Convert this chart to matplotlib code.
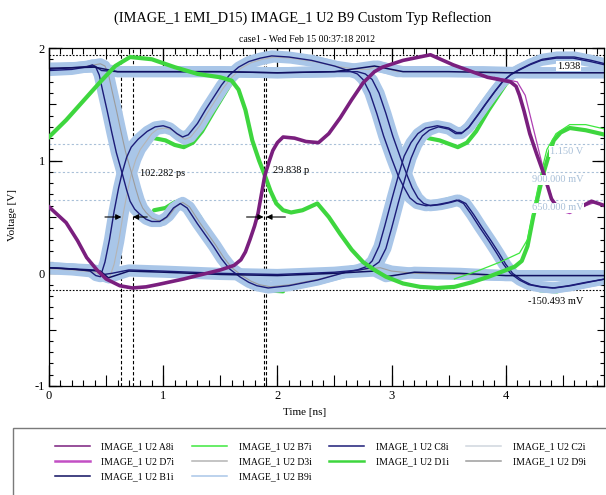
import matplotlib
matplotlib.use("Agg")
import matplotlib.pyplot as plt
from matplotlib.ticker import MultipleLocator, NullFormatter
from matplotlib.lines import Line2D
from matplotlib.patches import Rectangle

plt.rcParams['font.family'] = ['Liberation Serif', 'DejaVu Serif']

# ---- data (time in ns, voltage in V) ----

# B9i bundle: falls at 1st crossing, rises at 2nd
e1_t = [0.00, 0.20, 0.32, 0.38, 0.41, 0.44, 0.47, 0.51, 0.55, 0.59, 0.64, 0.68, 0.71, 0.75, 0.79,
        0.85, 0.90, 0.97, 1.03, 1.09, 1.15, 1.21, 1.30, 1.37, 1.44, 1.51, 1.58, 1.67, 1.75, 1.82,
        1.92, 2.10, 2.35, 2.60, 2.70, 2.78, 2.83, 2.89, 2.94, 3.00, 3.06, 3.11, 3.17, 3.23, 3.30,
        3.40, 3.50, 3.57, 3.62, 3.68, 3.76, 3.83, 3.91, 3.98, 4.05, 4.12, 4.22, 4.32, 4.45, 4.60,
        4.75, 4.87]
e1_v = [1.80, 1.81, 1.83, 1.85, 1.83, 1.76, 1.62, 1.44, 1.25, 1.07, 0.89, 0.74, 0.64, 0.57, 0.53,
        0.48, 0.46, 0.46, 0.50, 0.58, 0.62, 0.58, 0.44, 0.34, 0.24, 0.13, 0.04, -0.03, -0.08, -0.11,
        -0.13, -0.11, -0.06, 0.01, 0.03, 0.06, 0.11, 0.24, 0.42, 0.65, 0.87, 1.04, 1.16, 1.24, 1.29,
        1.31, 1.29, 1.25, 1.25, 1.30, 1.41, 1.51, 1.62, 1.71, 1.77, 1.81, 1.86, 1.90, 1.92, 1.92,
        1.89, 1.86]

# rises at 1st crossing, falls at 2nd
e2_t = [0.00, 0.20, 0.36, 0.41, 0.45, 0.49, 0.53, 0.57, 0.61, 0.64, 0.68, 0.72, 0.78, 0.86, 0.93,
        1.00, 1.06, 1.12, 1.17, 1.22, 1.30, 1.37, 1.44, 1.51, 1.58, 1.66, 1.75, 1.85, 1.95, 2.10,
        2.30, 2.50, 2.62, 2.70, 2.75, 2.81, 2.87, 2.93, 3.00, 3.06, 3.11, 3.16, 3.22, 3.30, 3.40,
        3.50, 3.57, 3.63, 3.70, 3.77, 3.85, 3.92, 3.98, 4.04, 4.12, 4.20, 4.30, 4.41, 4.55, 4.70,
        4.87]
e2_v = [0.05, 0.04, 0.02, -0.02, -0.03, 0.10, 0.30, 0.55, 0.76, 0.89, 1.03, 1.12, 1.19, 1.26, 1.30,
        1.31, 1.29, 1.24, 1.21, 1.23, 1.33, 1.45, 1.56, 1.67, 1.76, 1.83, 1.88, 1.91, 1.93, 1.92,
        1.89, 1.84, 1.80, 1.77, 1.72, 1.60, 1.42, 1.22, 1.02, 0.86, 0.76, 0.67, 0.62, 0.60, 0.61,
        0.63, 0.65, 0.62, 0.52, 0.41, 0.29, 0.18, 0.08, 0.00, -0.06, -0.10, -0.12, -0.13, -0.11, -0.08,
        -0.05]

# rises at 1st crossing, stays high
e3_t = [0.00, 0.20, 0.40, 0.49, 0.53, 0.57, 0.61, 0.65, 0.69, 0.72, 0.76, 0.80, 0.85, 0.90, 0.95,
        1.02, 1.08, 1.14, 1.19, 1.24, 1.32, 1.39, 1.46, 1.53, 1.60, 1.68, 1.77, 1.87, 1.97, 2.12,
        2.32, 2.50, 2.70, 2.80, 2.88, 2.95, 3.05, 3.40, 3.80, 4.20, 4.87]
e3_v = [0.04, 0.03, 0.01, -0.03, -0.04, 0.08, 0.28, 0.53, 0.74, 0.88, 1.01, 1.10, 1.17, 1.24, 1.28,
        1.29, 1.27, 1.22, 1.19, 1.21, 1.31, 1.43, 1.54, 1.65, 1.74, 1.82, 1.87, 1.90, 1.92, 1.91,
        1.88, 1.84, 1.81, 1.81, 1.84, 1.82, 1.79, 1.79, 1.79, 1.78, 1.78]

# falls at 1st crossing, stays low
e4_t = [0.00, 0.20, 0.34, 0.45, 0.49, 0.52, 0.55, 0.59, 0.63, 0.67, 0.72, 0.76, 0.79, 0.82, 0.85,
        0.90, 0.95, 1.00, 1.05, 1.11, 1.17, 1.23, 1.32, 1.39, 1.46, 1.53, 1.60, 1.69, 1.77, 1.84,
        1.94, 2.12, 2.37, 2.60, 2.80, 2.90, 3.00, 3.20, 3.60, 4.00, 4.87]
e4_v = [1.82, 1.82, 1.84, 1.86, 1.84, 1.77, 1.63, 1.45, 1.26, 1.08, 0.90, 0.75, 0.65, 0.58, 0.54,
        0.49, 0.47, 0.47, 0.51, 0.59, 0.63, 0.59, 0.45, 0.35, 0.25, 0.14, 0.05, -0.02, -0.07, -0.10,
        -0.12, -0.10, -0.05, 0.01, 0.04, 0.05, 0.02, 0.00, -0.01, -0.02, -0.02]

# stays low, rises at 2nd crossing
e5_t = [0.00, 0.40, 0.48, 0.55, 0.70, 1.00, 1.50, 2.00, 2.50, 2.72, 2.82, 2.89, 2.95, 3.00, 3.06,
        3.12, 3.17, 3.22, 3.27, 3.33, 3.41, 3.50, 3.56, 3.61, 3.67, 3.75, 3.82, 3.90, 3.97, 4.04,
        4.11, 4.21, 4.31, 4.44, 4.59, 4.74, 4.87]
e5_v = [0.05, 0.03, -0.01, 0.00, 0.03, 0.02, 0.00, -0.01, 0.01, 0.03, 0.05, 0.10, 0.22, 0.40, 0.63,
        0.85, 1.02, 1.14, 1.22, 1.27, 1.30, 1.28, 1.24, 1.24, 1.29, 1.40, 1.50, 1.61, 1.70, 1.76,
        1.80, 1.85, 1.89, 1.91, 1.91, 1.88, 1.85]

# stays high, falls at 2nd crossing
e6_t = [0.00, 0.40, 0.46, 0.60, 1.00, 1.50, 2.00, 2.50, 2.70, 2.77, 2.83, 2.89, 2.95, 3.01, 3.08,
        3.14, 3.18, 3.23, 3.28, 3.34, 3.43, 3.52, 3.59, 3.65, 3.72, 3.79, 3.87, 3.94, 4.00, 4.06,
        4.14, 4.22, 4.32, 4.43, 4.57, 4.72, 4.87]
e6_v = [1.81, 1.84, 1.80, 1.79, 1.79, 1.79, 1.78, 1.79, 1.79, 1.77, 1.72, 1.60, 1.42, 1.22, 1.02,
        0.86, 0.76, 0.67, 0.62, 0.60, 0.61, 0.63, 0.65, 0.62, 0.52, 0.41, 0.29, 0.18, 0.08, 0.00,
        -0.06, -0.10, -0.12, -0.13, -0.11, -0.08, -0.05]

# stays high throughout
e7_t = [0.00, 0.40, 0.60, 1.00, 1.50, 2.00, 2.50, 2.85, 3.10, 3.50, 4.00, 4.50, 4.87]
e7_v = [1.82, 1.83, 1.79, 1.79, 1.79, 1.78, 1.79, 1.84, 1.79, 1.79, 1.78, 1.78, 1.78]

# stays low throughout
e8_t = [0.00, 0.45, 0.52, 0.70, 1.00, 1.50, 2.00, 2.50, 2.85, 2.95, 3.20, 3.60, 4.00, 4.50, 4.87]
e8_v = [0.05, 0.02, -0.04, 0.02, 0.01, -0.01, -0.02, 0.00, 0.02, -0.03, 0.01, 0.00, -0.02, -0.02, -0.02]

# green fringe riding on the eye plateaus
gu1_t = [0.92, 1.02, 1.10, 1.18, 1.26, 1.34, 1.45, 1.60, 1.75, 1.90]
gu1_v = [1.20, 1.18, 1.14, 1.12, 1.16, 1.26, 1.45, 1.70, 1.86, 1.93]
gl1_t = [0.92, 1.02, 1.10, 1.18, 1.24, 1.32, 1.45, 1.60, 1.75, 1.90, 2.05]
gl1_v = [0.56, 0.58, 0.63, 0.65, 0.61, 0.50, 0.28, 0.06, -0.08, -0.15, -0.16]
gu2_t = [3.32, 3.42, 3.50, 3.58, 3.66, 3.74, 3.85, 4.00, 4.15, 4.35]
gu2_v = [1.20, 1.18, 1.15, 1.12, 1.16, 1.26, 1.45, 1.68, 1.83, 1.92]
gl2_t = [3.32, 3.42, 3.50, 3.58, 3.64, 3.72, 3.87, 4.00, 4.15, 4.30, 4.45]
gl2_v = [0.60, 0.63, 0.66, 0.66, 0.62, 0.50, 0.28, 0.08, -0.08, -0.15, -0.16]

# D1i main green waveform
d1_t = [0.00, 0.15, 0.30, 0.45, 0.58, 0.71, 0.90, 1.10, 1.30, 1.50, 1.60, 1.66, 1.72, 1.78, 1.84,
        1.89, 1.94, 1.99, 2.05, 2.12, 2.22, 2.35, 2.45, 2.55, 2.65, 2.75, 2.85, 2.95, 3.10, 3.25,
        3.40, 3.55, 3.70, 3.85, 3.98, 4.08, 4.14, 4.19, 4.24, 4.29, 4.33, 4.38, 4.42, 4.48, 4.56,
        4.70, 4.87]
d1_v = [1.21, 1.36, 1.53, 1.70, 1.84, 1.92, 1.90, 1.83, 1.77, 1.74, 1.71, 1.63, 1.45, 1.18, 1.00,
        0.87, 0.73, 0.62, 0.56, 0.54, 0.56, 0.62, 0.50, 0.35, 0.21, 0.10, 0.03, -0.03, -0.09, -0.12,
        -0.13, -0.12, -0.08, -0.03, 0.02, 0.06, 0.11, 0.24, 0.50, 0.72, 0.89, 1.06, 1.18, 1.25, 1.29,
        1.27, 1.23]

# B7i thin green
b7_t = [3.55, 3.75, 3.95, 4.12, 4.19, 4.24, 4.30, 4.36, 4.44, 4.56, 4.70, 4.87]
b7_v = [-0.05, 0.02, 0.10, 0.18, 0.30, 0.55, 0.85, 1.10, 1.24, 1.32, 1.32, 1.28]

# A8i purple waveform
a8_t = [0.00, 0.15, 0.25, 0.33, 0.42, 0.50, 0.62, 0.73, 0.85, 0.95, 1.18, 1.50, 1.62, 1.68, 1.72,
        1.76, 1.80, 1.83, 1.86, 1.89, 1.93, 1.96, 2.00, 2.05, 2.15, 2.25, 2.36, 2.45, 2.55, 2.65,
        2.75, 2.85, 2.92, 3.10, 3.34, 3.54, 3.84, 4.04, 4.09, 4.12, 4.16, 4.21, 4.27, 4.33, 4.37,
        4.40, 4.45, 4.50, 4.60, 4.75, 4.87]
a8_v = [0.59, 0.45, 0.29, 0.14, 0.03, -0.05, -0.11, -0.13, -0.12, -0.10, -0.05, 0.03, 0.07, 0.12, 0.19,
        0.30, 0.42, 0.53, 0.70, 0.87, 1.00, 1.09, 1.16, 1.21, 1.20, 1.17, 1.16, 1.24, 1.38, 1.54,
        1.69, 1.79, 1.83, 1.89, 1.94, 1.85, 1.74, 1.70, 1.66, 1.58, 1.44, 1.24, 1.06, 0.89, 0.76,
        0.66, 0.59, 0.56, 0.56, 0.64, 0.60]

# D7i thin magenta
d7_t = [3.90, 4.10, 4.17, 4.25, 4.33, 4.40, 4.46, 4.56, 4.70, 4.78, 4.87]
d7_v = [1.74, 1.70, 1.58, 1.25, 0.92, 0.68, 0.56, 0.53, 0.60, 0.63, 0.59]

# measurement markers
level_lines = [1.15, 0.90, 0.65]
level_labels = ['1.150 V', '900.000 mV', '650.000 mV']
peak_lines = [1.938, -0.150493]
peak_labels = ['1.938', '-150.493 mV']
time_lines = [0.634, 0.735, 1.879, 1.903]
jitter_labels = ['102.282 ps', '29.838 p']

x_ticks = [0, 1, 2, 3, 4]
y_ticks = [-1, 0, 1, 2]
y_tick_labels = ['-1', '0', '1', '2']

net_names = ['IMAGE_1 U2 A8i', 'IMAGE_1 U2 D7i', 'IMAGE_1 U2 B1i',
             'IMAGE_1 U2 B7i', 'IMAGE_1 U2 D3i', 'IMAGE_1 U2 B9i',
             'IMAGE_1 U2 C8i', 'IMAGE_1 U2 D1i',
             'IMAGE_1 U2 C2i', 'IMAGE_1 U2 D9i']
net_colors = ['#7a1f7e', '#c24fc4', '#101060', '#3ee83e', '#b4b4b4', '#a9c6e8',
              '#1c1c78', '#3ed63e', '#cfd6de', '#9c9c9c']
net_widths = [1.1, 1.8, 1.1, 1.1, 1.1, 1.1, 1.1, 1.8, 1.1, 1.1]

LB, NAVY, DKNAVY = '#a9c6e8', '#1c1c78', '#101060'
GREEN, GREEN2, PURPLE = '#3ee83e', '#3ed63e', '#7a1f7e'

fig = plt.figure(figsize=(6.06, 4.95), dpi=100)
ax = fig.add_axes([49 / 606, 1 - 386 / 495, 555 / 606, 338 / 495])
ax.set_xlim(0, 4.86)
ax.set_ylim(-1, 2)

eye = [(e1_t, e1_v), (e2_t, e2_v), (e3_t, e3_v), (e4_t, e4_v),
       (e5_t, e5_v), (e6_t, e6_v), (e7_t, e7_v), (e8_t, e8_v)]

# green fringe under the bundle
for t, v in [(gu1_t, gu1_v), (gl1_t, gl1_v), (gu2_t, gu2_v), (gl2_t, gl2_v)]:
    ax.plot(t, v, color=GREEN2, lw=3.0, solid_capstyle='round', zorder=1.8)

for t, v in eye:
    ax.plot(t, v, color=LB, lw=8, solid_capstyle='round', zorder=2)

# thin strands inside the bundle
ax.plot(e3_t, e3_v, color='#b4b4b4', lw=0.8, zorder=2.05)
ax.plot(e4_t, e4_v, color='#9c9c9c', lw=0.8, zorder=2.05)
for t, v in [(e1_t, e1_v), (e2_t, e2_v), (e5_t, e5_v), (e6_t, e6_v)]:
    ax.plot(t, v, color=NAVY, lw=1.0, zorder=2.1)
for t, v in [(e7_t, e7_v), (e8_t, e8_v)]:
    ax.plot(t, v, color=DKNAVY, lw=1.1, zorder=2.1)

ax.plot(d1_t, d1_v, color=GREEN2, lw=3.0, zorder=3)
ax.plot(b7_t, b7_v, color=GREEN, lw=0.9, zorder=3)
ax.plot(d7_t, d7_v, color='#b040b4', lw=0.9, zorder=3)
ax.plot(a8_t, a8_v, color=PURPLE, lw=2.6, zorder=3.1)

# marker lines
for y in level_lines:
    ax.axhline(y, color='#a9c0d8', lw=0.8, dashes=(2, 2), zorder=1.5)
for y in peak_lines:
    ax.axhline(y, color='k', lw=0.8, dashes=(1.5, 1.5), zorder=1.5)
for x in time_lines:
    ax.axvline(x, color='k', lw=0.8, dashes=(3, 2), zorder=1.5)

lab_kw = dict(fontsize=7.5, ha='right', va='top', zorder=6,
              bbox=dict(facecolor='white', edgecolor='none', pad=0.5))
for y, s in zip(level_lines, level_labels):
    ax.text(4.68, y - 0.03, s, color='#a9c0d8', **lab_kw)
ax.text(4.65, peak_lines[0] - 0.06, peak_labels[0], color='k', **lab_kw)
ax.text(4.68, peak_lines[1] - 0.06, peak_labels[1], color='k', **lab_kw)

ax.text(0.80, 0.89, jitter_labels[0], fontsize=7.5, va='center', zorder=6)
ax.text(1.96, 0.91, jitter_labels[1], fontsize=7.5, va='center', zorder=6)

arr = dict(arrowstyle='-|>', color='k', lw=0.8, mutation_scale=8, shrinkA=0, shrinkB=0)
ax.annotate('', xy=(time_lines[0], 0.5), xytext=(0.49, 0.5), arrowprops=arr, zorder=5)
ax.annotate('', xy=(time_lines[1], 0.5), xytext=(0.86, 0.5), arrowprops=arr, zorder=5)
ax.annotate('', xy=(time_lines[2], 0.5), xytext=(1.73, 0.5), arrowprops=arr, zorder=5)
ax.annotate('', xy=(time_lines[3], 0.5), xytext=(2.07, 0.5), arrowprops=arr, zorder=5)

# ticks: three levels
ax.xaxis.set_major_locator(MultipleLocator(0.5))
ax.xaxis.set_minor_locator(MultipleLocator(0.1))
ax.yaxis.set_major_locator(MultipleLocator(0.5))
ax.yaxis.set_minor_locator(MultipleLocator(0.1))
ax.tick_params(which='both', direction='in', top=True, right=True,
               labelbottom=False, labelleft=False, width=0.8)
ax.tick_params(axis='x', which='major', length=8)
ax.tick_params(axis='x', which='minor', length=4)
ax.tick_params(axis='y', which='major', length=5)
ax.tick_params(axis='y', which='minor', length=3)
for sp in ax.spines.values():
    sp.set_linewidth(0.9)

for side in ('bottom', 'top'):
    sec = ax.secondary_xaxis(side)
    sec.set_xticks(x_ticks)
    sec.tick_params(direction='in', length=15, width=0.9, labelsize=9, pad=3)
    if side == 'top':
        sec.xaxis.set_major_formatter(NullFormatter())
    sec.spines[side].set_visible(False)
for side in ('left', 'right'):
    sec = ax.secondary_yaxis(side)
    sec.set_yticks(y_ticks)
    sec.tick_params(direction='in', length=9, width=0.9, labelsize=9, pad=3)
    if side == 'right':
        sec.yaxis.set_major_formatter(NullFormatter())
    else:
        sec.set_yticklabels(y_tick_labels)
    sec.spines[side].set_visible(False)

fig.text(0.499, 0.963, '(IMAGE_1 EMI_D15) IMAGE_1 U2 B9 Custom Typ Reflection',
         ha='center', va='center', fontsize=10.4)
fig.text(0.507, 0.921, 'case1 - Wed Feb 15 00:37:18 2012', ha='center', va='center', fontsize=7)
fig.text(0.020, 0.566, 'Voltage [V]', rotation=90, ha='center', va='center', fontsize=8)
fig.text(0.503, 0.166, 'Time [ns]', ha='center', va='center', fontsize=8)

# legend with an open-ended frame
fig.patches.append(Rectangle((13 / 606, -0.1), 1.1, 0.1 + (1 - 428 / 495),
                             transform=fig.transFigure, fill=False,
                             edgecolor='#7a7a7a', lw=1.0))
handles = [Line2D([], [], color=c, lw=w) for c, w in zip(net_colors, net_widths)]
fig.legend(handles, net_names, ncol=4, loc='upper left', bbox_to_anchor=(0.076, 0.124),
           frameon=False, fontsize=7, handlelength=3.6, handletextpad=1.2,
           columnspacing=1.8, labelspacing=0.6, borderpad=0.4)

fig.savefig('out.png', dpi=100)
